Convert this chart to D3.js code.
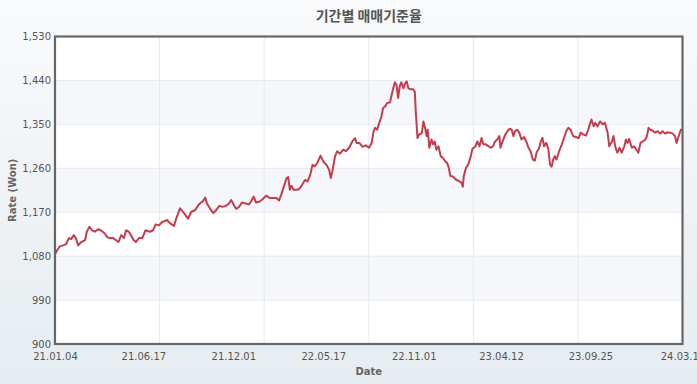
<!DOCTYPE html>
<html>
<head>
<meta charset="utf-8">
<script src="https://cdn.jsdelivr.net/npm/d3@7"></script>
<style>
  html, body { margin: 0; padding: 0; }
  body { width: 697px; height: 384px; overflow: hidden; }
  svg { display: block; font-family: "DejaVu Sans", Verdana, sans-serif; }
</style>
</head>
<body>
<svg width="697" height="384"></svg>
<script>
// chart data
const title = "기간별 매매기준율";

const dates = [
    // 2021
    "2021-01-04","2021-01-08","2021-01-13","2021-01-19","2021-01-24","2021-01-30",
    "2021-02-03","2021-02-08","2021-02-12","2021-02-16","2021-02-21",
    "2021-03-01","2021-03-04","2021-03-09","2021-03-14","2021-03-19","2021-03-25","2021-03-30",
    "2021-04-06","2021-04-11","2021-04-16","2021-04-22","2021-04-27",
    "2021-05-02","2021-05-07","2021-05-12","2021-05-16","2021-05-21","2021-05-25","2021-05-30",
    "2021-06-03","2021-06-09","2021-06-15","2021-06-21","2021-06-29",
    "2021-07-05","2021-07-10","2021-07-16","2021-07-22","2021-07-27","2021-07-31",
    "2021-08-06","2021-08-13","2021-08-17","2021-08-24","2021-08-28",
    "2021-09-02","2021-09-08","2021-09-14","2021-09-21","2021-09-25","2021-09-30",
    "2021-10-06","2021-10-10","2021-10-13","2021-10-18","2021-10-25","2021-10-30",
    "2021-11-05","2021-11-11","2021-11-17","2021-11-23","2021-11-27",
    "2021-12-02","2021-12-06","2021-12-12","2021-12-17","2021-12-24","2021-12-30",
    // 2022
    "2022-01-03","2022-01-08","2022-01-12","2022-01-19","2022-01-25","2022-01-31",
    "2022-02-07","2022-02-14","2022-02-19","2022-02-24","2022-02-28",
    "2022-03-05","2022-03-10","2022-03-13","2022-03-16","2022-03-19","2022-03-23","2022-03-28",
    "2022-04-02","2022-04-08","2022-04-13","2022-04-18","2022-04-23","2022-04-27",
    "2022-05-01","2022-05-06","2022-05-12","2022-05-17","2022-05-23","2022-05-28","2022-05-31",
    "2022-06-03","2022-06-08","2022-06-12","2022-06-17","2022-06-23","2022-06-28",
    "2022-07-04","2022-07-10","2022-07-15","2022-07-18","2022-07-23","2022-07-29",
    "2022-08-04","2022-08-10","2022-08-15","2022-08-18","2022-08-21","2022-08-25","2022-08-29",
    "2022-09-02","2022-09-05","2022-09-09","2022-09-13","2022-09-18","2022-09-21","2022-09-24","2022-09-27","2022-09-30",
    "2022-10-03","2022-10-06","2022-10-09","2022-10-13","2022-10-16","2022-10-19","2022-10-22","2022-10-26","2022-10-31",
    "2022-11-03","2022-11-05","2022-11-08","2022-11-11","2022-11-16","2022-11-19","2022-11-22","2022-11-25","2022-11-27","2022-11-30",
    "2022-12-04","2022-12-07","2022-12-10","2022-12-13","2022-12-17","2022-12-21","2022-12-26","2022-12-29",
    // 2023
    "2023-01-02","2023-01-05","2023-01-08","2023-01-13","2023-01-18","2023-01-25","2023-01-29","2023-01-31",
    "2023-02-02","2023-02-06","2023-02-10","2023-02-15","2023-02-18","2023-02-23","2023-02-27",
    "2023-03-03","2023-03-07","2023-03-10","2023-03-15","2023-03-20","2023-03-24","2023-03-28",
    "2023-04-01","2023-04-05","2023-04-09","2023-04-11","2023-04-15","2023-04-20","2023-04-24","2023-04-28",
    "2023-05-02","2023-05-05","2023-05-08","2023-05-12","2023-05-16","2023-05-20","2023-05-25","2023-05-29",
    "2023-06-02","2023-06-06","2023-06-10","2023-06-14","2023-06-17","2023-06-22","2023-06-25","2023-06-28",
    "2023-07-01","2023-07-05","2023-07-09","2023-07-12","2023-07-15","2023-07-18","2023-07-21","2023-07-24","2023-07-29",
    "2023-08-03","2023-08-07","2023-08-11","2023-08-15","2023-08-19","2023-08-24","2023-08-29",
    "2023-09-03","2023-09-07","2023-09-12","2023-09-17","2023-09-21","2023-09-24","2023-09-27",
    "2023-10-01","2023-10-04","2023-10-08","2023-10-13","2023-10-18","2023-10-22","2023-10-27","2023-10-30",
    "2023-11-04","2023-11-07","2023-11-10","2023-11-14","2023-11-18","2023-11-22","2023-11-27","2023-11-30",
    "2023-12-03","2023-12-06","2023-12-11","2023-12-15","2023-12-19","2023-12-23","2023-12-27","2023-12-31",
    // 2024
    "2024-01-05","2024-01-08","2024-01-11","2024-01-14","2024-01-19","2024-01-23","2024-01-28",
    "2024-02-02","2024-02-06","2024-02-11","2024-02-15","2024-02-20","2024-02-25","2024-02-29",
    "2024-03-03","2024-03-07","2024-03-11","2024-03-14"
];

const rates = [
    // 2021
    1084,1092,1100,1102,1104,1117,
    1115,1123,1116,1102,1108,
    1113,1130,1140,1133,1130,1135,1133,
    1127,1119,1117,1117,1113,
    1109,1123,1117,1133,1130,1123,1113,
    1109,1117,1117,1133,1130,
    1133,1145,1143,1150,1152,1154,
    1147,1142,1157,1178,1173,
    1166,1157,1171,1174,1181,1188,
    1193,1200,1188,1179,1168,1174,
    1183,1181,1183,1188,1195,
    1185,1177,1181,1190,1188,1186,
    // 2022
    1192,1202,1190,1192,1197,1204,
    1199,1199,1199,1194,1206,
    1223,1240,1242,1216,1224,1216,1216,
    1217,1226,1236,1233,1247,1267,
    1264,1271,1286,1274,1267,1257,1240,
    1254,1285,1295,1290,1298,1295,
    1302,1315,1322,1312,1312,1304,
    1307,1302,1312,1333,1343,1339,1353,
    1366,1383,1387,1394,1395,1410,1424,1436,1431,
    1404,1428,1436,1424,1434,1438,1424,1422,1422,
    1417,1373,1322,1329,1332,1356,1343,1326,1339,1302,
    1319,1309,1315,1298,1305,1285,1280,1275,
    // 2023
    1271,1261,1244,1243,1237,1233,1230,1222,
    1244,1261,1267,1285,1300,1304,1315,
    1305,1322,1309,1309,1305,1302,1305,
    1315,1319,1326,1302,1315,1329,1336,1341,
    1339,1326,1336,1339,1333,1319,1324,1315,
    1302,1295,1278,1276,1292,1302,1315,1322,
    1305,1312,1299,1268,1263,1278,1285,1278,1295,
    1309,1322,1336,1343,1339,1326,1324,
    1322,1333,1329,1327,1339,1350,1360,
    1346,1353,1346,1356,1350,1353,1333,1305,
    1315,1326,1305,1292,1302,1292,1305,1319,
    1312,1320,1302,1305,1299,1292,1312,1315,
    // 2024
    1319,1326,1343,1339,1337,1333,1336,
    1331,1336,1331,1334,1333,1331,1326,
    1312,1326,1339,1340
];

const tickDates = ["2021-01-04","2021-06-17","2021-12-01","2022-05-17",
                   "2022-11-01","2023-04-12","2023-09-25","2024-03-14"];
const yTicks = [900, 990, 1080, 1170, 1260, 1350, 1440, 1530];

const svg = d3.select("svg"),
    width = +svg.attr("width"),
    height = +svg.attr("height");

const margin = {left: 55, right: 14.5, top: 36.5, bottom: 40};
const plotW = width - margin.left - margin.right,
    plotH = height - margin.top - margin.bottom;

const parse = d3.timeParse("%Y-%m-%d");
const fmt = d3.timeFormat("%y.%m.%d");

var data = dates.map(function(d, i) { return {date: parse(d), rate: rates[i]}; });

var x = d3.scaleTime()
    .domain([parse(tickDates[0]), parse(tickDates[tickDates.length - 1])])
    .range([0, plotW]);

var y = d3.scaleLinear()
    .domain([yTicks[0], yTicks[yTicks.length - 1]])
    .range([plotH, 0]);

// page background
var defs = svg.append("defs");
var bg = defs.append("linearGradient")
    .attr("id", "bg")
    .attr("x1", 0).attr("y1", 0).attr("x2", 0).attr("y2", 1);
bg.append("stop").attr("offset", "0%").attr("stop-color", "#f9fafc");
bg.append("stop").attr("offset", "100%").attr("stop-color", "#e6ecf0");

svg.append("rect")
    .attr("width", width)
    .attr("height", height)
    .attr("fill", "url(#bg)");

var g = svg.append("g")
    .attr("transform", "translate(" + margin.left + "," + margin.top + ")");

// alternating bands
g.append("g")
    .selectAll("rect")
    .data(yTicks.slice(0, -1))
    .enter().append("rect")
    .attr("x", 0)
    .attr("width", plotW)
    .attr("y", function(d, i) { return y(yTicks[i + 1]); })
    .attr("height", function(d, i) { return y(d) - y(yTicks[i + 1]); })
    .attr("fill", function(d, i) { return i % 2 ? "#f5f7fa" : "#ffffff"; });

// grid lines
g.append("g")
    .selectAll("line")
    .data(yTicks)
    .enter().append("line")
    .attr("x1", 0)
    .attr("x2", plotW)
    .attr("y1", function(d) { return y(d); })
    .attr("y2", function(d) { return y(d); })
    .attr("stroke", "#e6eaef");

// vertical grid splits the date range in six equal parts
var t0 = x.domain()[0].getTime(), t1 = x.domain()[1].getTime();
var gridDates = d3.range(7).map(function(i) { return new Date(t0 + (t1 - t0) * i / 6); });
g.append("g")
    .selectAll("line")
    .data(gridDates)
    .enter().append("line")
    .attr("x1", function(d) { return x(d); })
    .attr("x2", function(d) { return x(d); })
    .attr("y1", 0)
    .attr("y2", plotH)
    .attr("stroke", "#e6eaef");

// the rate line
var line = d3.line()
    .x(function(d) { return x(d.date); })
    .y(function(d) { return y(d.rate); });

g.append("path")
    .datum(data)
    .attr("fill", "none")
    .attr("stroke", "#c63c4e")
    .attr("stroke-width", 2)
    .attr("stroke-linejoin", "round")
    .attr("d", line);

// frame
g.append("rect")
    .attr("width", plotW)
    .attr("height", plotH)
    .attr("fill", "none")
    .attr("stroke", "#666")
    .attr("stroke-width", 2.2);

// axes
var yAxis = g.append("g")
    .call(d3.axisLeft(y).tickValues(yTicks).tickFormat(d3.format(",")).tickSize(0).tickPadding(4));
yAxis.select(".domain").remove();

var xAxis = g.append("g")
    .attr("transform", "translate(0," + plotH + ")")
    .call(d3.axisBottom(x).tickValues(tickDates.map(parse)).tickFormat(fmt).tickSize(0).tickPadding(9));
xAxis.select(".domain").remove();

g.selectAll(".tick text")
    .attr("fill", "#555")
    .style("font-size", "10px")
    .style("font-family", "'DejaVu Sans', Verdana, sans-serif");

// titles
svg.append("text")
    .attr("x", margin.left + plotW / 2)
    .attr("y", 21)
    .attr("text-anchor", "middle")
    .attr("fill", "#555")
    .style("font-family", "'Noto Sans CJK KR', sans-serif")
    .style("font-size", "14px")
    .style("font-weight", "bold")
    .text(title);

svg.append("text")
    .attr("transform", "translate(12," + (margin.top + plotH / 2) + ") rotate(-90)")
    .attr("text-anchor", "middle")
    .attr("dy", "0.35em")
    .attr("fill", "#666")
    .style("font-size", "10px")
    .style("font-weight", "bold")
    .text("Rate (Won)");

svg.append("text")
    .attr("x", margin.left + plotW / 2)
    .attr("y", 371)
    .attr("dy", "0.35em")
    .attr("text-anchor", "middle")
    .attr("fill", "#666")
    .style("font-size", "10px")
    .style("font-weight", "bold")
    .text("Date");
</script>
</body>
</html>
